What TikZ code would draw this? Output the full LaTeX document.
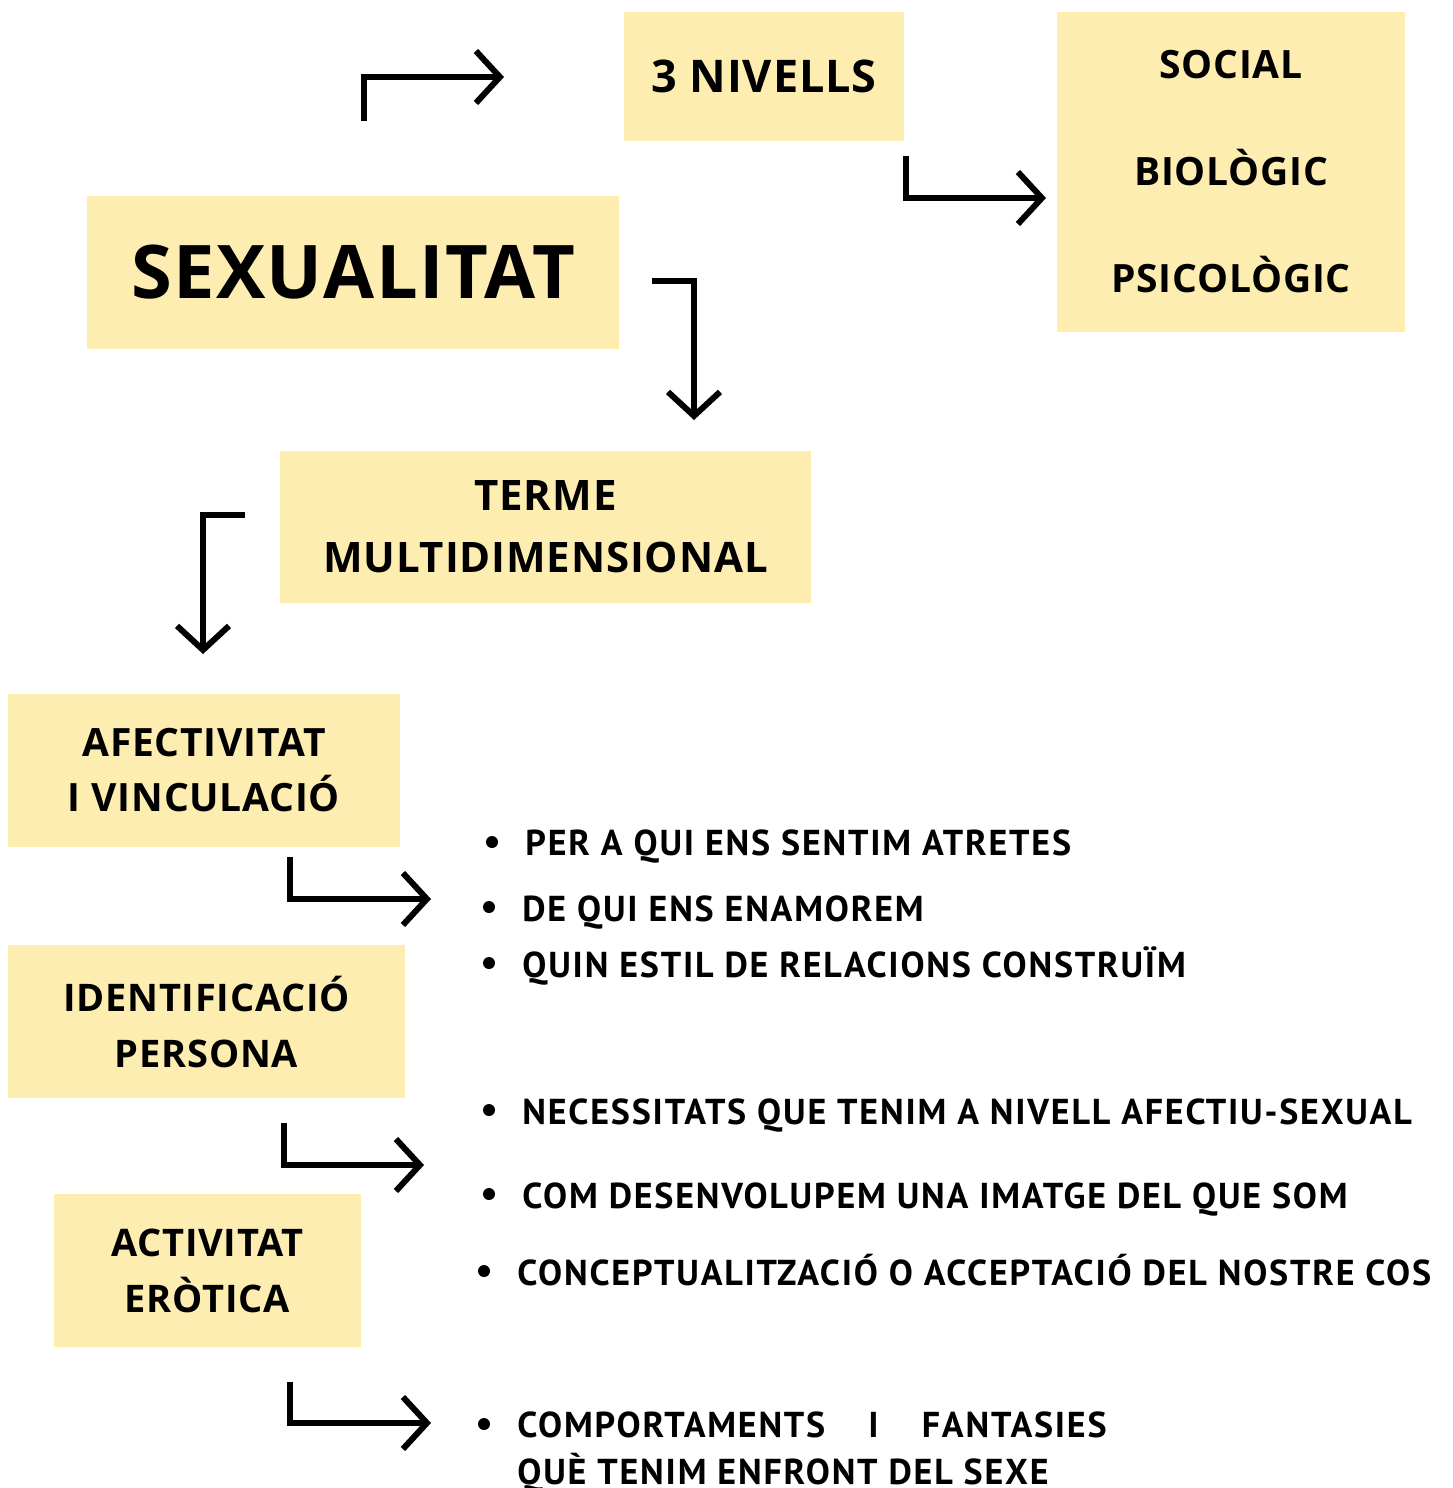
\documentclass[tikz,border=0pt]{standalone}
\usepackage{fontspec}
\setmainfont{Open Sans}[LetterSpace=2]
\newfontfamily\listfont{PT Sans}[LetterSpace=5]
\usetikzlibrary{positioning,arrows.meta}
\definecolor{boxyellow}{HTML}{FEEDB0}

\begin{document}
\begin{tikzpicture}[x=0.5pt,y=-0.5pt,
    box/.style={fill=boxyellow, inner sep=0pt, align=center, font=\bfseries\fontsize{19.5}{27.5}\selectfont},
    arr/.style={line width=3pt, -{Straight Barb[length=12pt,width=26pt]}},
    item/.style={anchor=base west, inner sep=0pt, align=left, font=\listfont\bfseries\fontsize{18}{23.5}\selectfont},
    dot/.style={circle, fill=black, inner sep=0pt, minimum size=6pt}]
    \useasboundingbox (0,0) rectangle (1452,1488);

    % caixes
    \node[box, minimum width=266pt, minimum height=76.5pt, font=\bfseries\fontsize{37}{40}\selectfont] (sexualitat) at (353,272.5) {SEXUALITAT};
    \node[box, minimum width=140pt, minimum height=64.5pt, font=\bfseries\fontsize{22.5}{26}\selectfont] (nivells) at (764,76.5) {3 NIVELLS};
    \node[box, minimum width=174pt, minimum height=160pt, font=\bfseries\fontsize{19.5}{53.5}\selectfont] (dimensions) at (1231,172) {SOCIAL\\BIOLÒGIC\\PSICOLÒGIC};
    \node[box, minimum width=265.5pt, minimum height=76pt, font=\bfseries\fontsize{21}{31}\selectfont] (terme) at (545.5,527) {TERME\\MULTIDIMENSIONAL};
    \node[box, minimum width=196pt, minimum height=76.5pt] (afectivitat) at (204,770.5) {AFECTIVITAT\\I VINCULACIÓ};
    \node[box, minimum width=198.5pt, minimum height=76.5pt, font=\bfseries\fontsize{19}{28}\selectfont] (identificacio) at (206.5,1021.5) {IDENTIFICACIÓ\\PERSONA};
    \node[box, minimum width=153.5pt, minimum height=76.5pt, font=\bfseries\fontsize{19}{28}\selectfont] (activitat) at (207.5,1270.5) {ACTIVITAT\\ERÒTICA};

    % fletxes
    \coordinate (a1s) at (364,121);  \coordinate (a1e) at (504,77);
    \coordinate (a2s) at (906,156);  \coordinate (a2e) at (1046,198);
    \coordinate (a3s) at (652,281);  \coordinate (a3e) at (694,420);
    \coordinate (a4s) at (245,515);  \coordinate (a4e) at (203,654);
    \coordinate (a5s) at (290,857);  \coordinate (a5e) at (431,899);
    \coordinate (a6s) at (284,1123); \coordinate (a6e) at (424,1165);
    \coordinate (a7s) at (290,1382); \coordinate (a7e) at (431,1423);
    \draw[arr] (a1s) |- (a1e);
    \draw[arr] (a2s) |- (a2e);
    \draw[arr] (a3s) -| (a3e);
    \draw[arr] (a4s) -| (a4e);
    \draw[arr] (a5s) |- (a5e);
    \draw[arr] (a6s) |- (a6e);
    \draw[arr] (a7s) |- (a7e);

    % llistes
    \node[dot] (d1) at (492,842) {};
    \node[item] (t1) at (525,855) {PER A QUI ENS SENTIM ATRETES};
    \node[dot] (d2) at (489,907) {};
    \node[item] (t2) at (522,921) {DE QUI ENS ENAMOREM};
    \node[dot] (d3) at (489,963) {};
    \node[item] (t3) at (522,977) {QUIN ESTIL DE RELACIONS CONSTRUÏM};
    \node[dot] (d4) at (489,1110) {};
    \node[item] (t4) at (522,1124) {NECESSITATS QUE TENIM A NIVELL AFECTIU-SEXUAL};
    \node[dot] (d5) at (489,1194) {};
    \node[item] (t5) at (522,1208) {COM DESENVOLUPEM UNA IMATGE DEL QUE SOM};
    \node[dot] (d6) at (484,1271) {};
    \node[item] (t6) at (517,1285) {CONCEPTUALITZACIÓ O ACCEPTACIÓ DEL NOSTRE COS};
    \node[dot] (d7) at (484,1424) {};
    \node[item] (t7) at (517,1437) {COMPORTAMENTS\hspace{1.2em}I\hspace{1.2em}FANTASIES};
    \node[item] (t7b) at (517,1484) {QUÈ TENIM ENFRONT DEL SEXE};
\end{tikzpicture}
\end{document}
